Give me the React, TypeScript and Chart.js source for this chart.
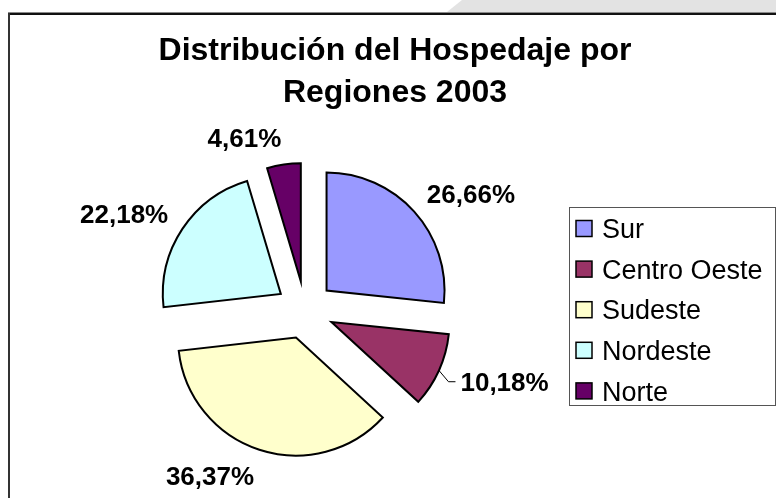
import React, { useEffect, useRef } from "react";
import { Chart, registerables } from "chart.js";

Chart.register(...registerables);

// ---------- data ----------
const TITLE_LINES = ["Distribución del Hospedaje por", "Regiones 2003"];
const REGIONS = ["Sur", "Centro Oeste", "Sudeste", "Nordeste", "Norte"];
const SHARES = [26.66, 10.18, 36.37, 22.18, 4.61];
const COLORS = ["#9999FF", "#993366", "#FFFFCC", "#CCFFFF", "#660066"];
const LEADER_LINE = [false, true, false, false, false];

// ---------- style constants ----------
const W = 776;
const H = 498;
const FONT = "'Liberation Sans', Arial, sans-serif";
const EXPLODE = 29;
const RADIUS = 118;
const LABEL_GAP = 17;
const TITLE_SIZE = 32;
const LABEL_SIZE = 26;
const LEGEND_SIZE = 27;
const TITLE_CX = 395;
const TITLE_BASE = 60;
const TITLE_LINE_H = 42;
const LEGEND_BOX = { x: 569.5, y: 207.5, w: 206, h: 198 };
const LEGEND_FIRST = 228.5;
const LEGEND_STEP = 40.6;
const SWATCH = 16;

const fmt = (v: number) => v.toFixed(2).replace(".", ",") + "%";

const explodePlugin = {
  id: "explode",
  afterDatasetsUpdate(chart: any) {
    const meta = chart.getDatasetMeta(0);
    meta.data.forEach((arc: any) => {
      const mid = (arc.startAngle + arc.endAngle) / 2;
      arc.x += Math.cos(mid) * EXPLODE;
      arc.y += Math.sin(mid) * EXPLODE;
    });
  },
};

const backgroundPlugin = {
  id: "bgFrame",
  beforeDraw(chart: any) {
    const ctx = chart.ctx as CanvasRenderingContext2D;
    ctx.save();
    ctx.fillStyle = "#ffffff";
    ctx.fillRect(0, 0, W, H);
    ctx.fillStyle = "#e3e3e3";
    ctx.beginPath();
    ctx.moveTo(462, 0);
    ctx.lineTo(W, 0);
    ctx.lineTo(W, 12);
    ctx.lineTo(447, 12);
    ctx.closePath();
    ctx.fill();
    ctx.fillStyle = "#8a8a8a";
    ctx.fillRect(8, 12, W - 8, 1);
    ctx.fillStyle = "#111111";
    ctx.fillRect(8, 13, W - 8, 2);
    ctx.fillStyle = "#333333";
    ctx.fillRect(8, 13, 2, H - 13);
    ctx.restore();
  },
};

const textPlugin = {
  id: "texts",
  afterDraw(chart: any) {
    const ctx = chart.ctx as CanvasRenderingContext2D;
    ctx.save();
    ctx.fillStyle = "#000";
    // title
    ctx.font = `bold ${TITLE_SIZE}px ${FONT}`;
    ctx.textAlign = "center";
    ctx.textBaseline = "alphabetic";
    TITLE_LINES.forEach((t, i) => ctx.fillText(t, TITLE_CX, TITLE_BASE + i * TITLE_LINE_H));

    // data labels
    const meta = chart.getDatasetMeta(0);
    const capH = LABEL_SIZE * 0.716;
    ctx.font = `bold ${LABEL_SIZE}px ${FONT}`;
    meta.data.forEach((arc: any, i: number) => {
      const mid = (arc.startAngle + arc.endAngle) / 2;
      const dx = Math.cos(mid);
      const dy = Math.sin(mid);
      const s = dx >= 0 ? 1 : -1;
      const px = arc.x + dx * (arc.outerRadius + LABEL_GAP);
      const py = arc.y + dy * (arc.outerRadius + LABEL_GAP);
      const cy = py + dy * (capH / 2 + 1);
      let tx = px;
      if (LEADER_LINE[i]) {
        const ax = arc.x + dx * arc.outerRadius;
        const ay = arc.y + dy * arc.outerRadius;
        ctx.strokeStyle = "#000";
        ctx.lineWidth = 1;
        ctx.beginPath();
        ctx.moveTo(ax, ay);
        ctx.lineTo(px - s * 6, cy);
        ctx.lineTo(px + s * 1, cy);
        ctx.stroke();
        tx = px + s * 6;
      }
      ctx.textAlign = s > 0 ? "left" : "right";
      ctx.fillText(fmt(SHARES[i]), tx, cy + capH / 2);
    });

    // legend
    const b = LEGEND_BOX;
    ctx.fillStyle = "#fff";
    ctx.fillRect(b.x, b.y, b.w, b.h);
    ctx.strokeStyle = "#555";
    ctx.lineWidth = 1;
    ctx.strokeRect(b.x, b.y, b.w, b.h);
    ctx.font = `${LEGEND_SIZE}px ${FONT}`;
    ctx.textAlign = "left";
    const lcap = LEGEND_SIZE * 0.716;
    REGIONS.forEach((r, i) => {
      const yc = LEGEND_FIRST + i * LEGEND_STEP;
      ctx.fillStyle = COLORS[i];
      ctx.fillRect(576, yc - SWATCH / 2, SWATCH, SWATCH);
      ctx.strokeStyle = "#000";
      ctx.lineWidth = 1.5;
      ctx.strokeRect(576, yc - SWATCH / 2, SWATCH, SWATCH);
      ctx.fillStyle = "#000";
      ctx.fillText(r, 602, yc + lcap / 2);
    });
    ctx.restore();
  },
};

export default function App() {
  const ref = useRef<HTMLCanvasElement>(null);
  useEffect(() => {
    if (!ref.current) return;
    const chart = new Chart(ref.current, {
      type: "pie",
      data: {
        labels: REGIONS,
        datasets: [
          {
            data: SHARES,
            backgroundColor: COLORS,
            borderColor: "#000",
            borderWidth: 2,
            borderJoinStyle: "miter",
          } as any,
        ],
      },
      options: {
        responsive: false,
        animation: false,
        radius: RADIUS,
        layout: { padding: { left: 150, right: 316, top: 160, bottom: 38 } },
        plugins: {
          legend: { display: false },
          title: { display: false },
          tooltip: { enabled: false },
        },
      } as any,
      plugins: [explodePlugin, backgroundPlugin, textPlugin],
    });
    return () => chart.destroy();
  }, []);
  return (
    <div style={{ position: "absolute", left: 0, top: 0, width: W, height: H }}>
      <canvas ref={ref} width={W} height={H} style={{ display: "block" }} />
    </div>
  );
}
